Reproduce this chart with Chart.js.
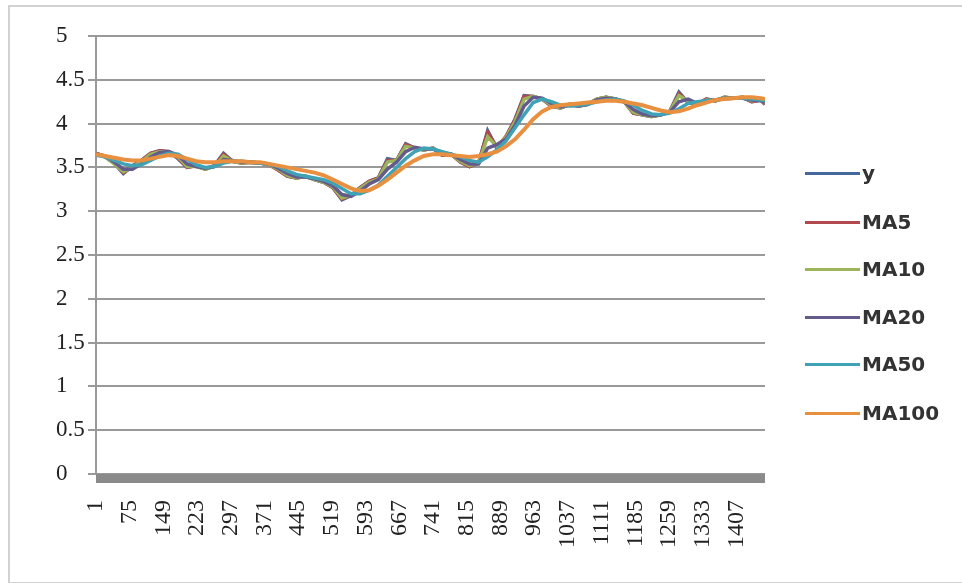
<!DOCTYPE html>
<html>
<head>
<meta charset="utf-8">
<script src="https://cdn.jsdelivr.net/npm/chart.js@4.4.1/dist/chart.umd.min.js"></script>
<style>
    body { margin: 0; background: #fff; }
    #wrap { position: relative; width: 962px; height: 583px; overflow: hidden; }
    #frame { position: absolute; left: 8px; top: 5px; width: 970px; height: 575px; border: 2px solid #d2d2d2; }
    #myChart { position: absolute; left: 0; top: 0; }
    .leg { position: absolute; left: 805px; height: 24px; display: flex; align-items: center;
        font-family: "DejaVu Sans", sans-serif; font-weight: bold; font-size: 20px; color: #333; }
    .leg span.ln { display: inline-block; width: 55px; height: 3px; margin-right: 2px; }
</style>
</head>
<body>
<div id="wrap">
    <div id="frame"></div>
    <canvas id="myChart" width="962" height="583"></canvas>
    <div id="legend"></div>
</div>
<script>
// category index of each sampled point
const idx = [1, 21, 41, 61, 81, 101, 121, 141, 161, 181,
    201, 221, 241, 261, 281, 301, 321, 341, 361, 381,
    401, 421, 441, 461, 481, 501, 521, 541, 561, 581,
    601, 621, 641, 661, 681, 701, 721, 741, 761, 781,
    801, 821, 841, 861, 881, 901, 921, 941, 961, 981,
    1001, 1021, 1041, 1061, 1081, 1101, 1121, 1141, 1161, 1181,
    1201, 1221, 1241, 1261, 1281, 1301, 1321, 1341, 1361, 1381,
    1401, 1421, 1441, 1461, 1470];

const xLabels = [1, 75, 149, 223, 297, 371, 445, 519, 593, 667, 741, 815, 889, 963, 1037, 1111, 1185, 1259, 1333, 1407];

const yVals = [3.66, 3.62, 3.55, 3.43, 3.52, 3.58, 3.66, 3.69, 3.68, 3.60,
    3.50, 3.52, 3.48, 3.52, 3.66, 3.57, 3.55, 3.56, 3.55, 3.53,
    3.47, 3.40, 3.38, 3.40, 3.36, 3.33, 3.27, 3.13, 3.18, 3.27,
    3.34, 3.38, 3.60, 3.58, 3.77, 3.72, 3.70, 3.72, 3.64, 3.65,
    3.56, 3.51, 3.55, 3.92, 3.72, 3.85, 4.05, 4.32, 4.31, 4.28,
    4.20, 4.18, 4.22, 4.20, 4.22, 4.28, 4.30, 4.28, 4.25, 4.12,
    4.10, 4.08, 4.10, 4.14, 4.36, 4.24, 4.22, 4.28, 4.26, 4.30,
    4.29, 4.30, 4.25, 4.27, 4.22];

const ma5 = [3.66, 3.62, 3.55, 3.44, 3.51, 3.58, 3.66, 3.69, 3.68, 3.61,
    3.50, 3.52, 3.48, 3.52, 3.65, 3.57, 3.55, 3.56, 3.55, 3.53,
    3.47, 3.40, 3.38, 3.40, 3.36, 3.33, 3.27, 3.14, 3.18, 3.27,
    3.34, 3.38, 3.58, 3.58, 3.76, 3.72, 3.70, 3.72, 3.64, 3.65,
    3.56, 3.51, 3.55, 3.90, 3.73, 3.85, 4.04, 4.31, 4.31, 4.28,
    4.20, 4.18, 4.22, 4.20, 4.22, 4.28, 4.30, 4.28, 4.25, 4.12,
    4.10, 4.08, 4.10, 4.14, 4.34, 4.25, 4.22, 4.28, 4.26, 4.30,
    4.29, 4.30, 4.25, 4.27, 4.22];

const ma10 = [3.66, 3.62, 3.54, 3.45, 3.50, 3.57, 3.65, 3.68, 3.68, 3.62,
    3.51, 3.51, 3.48, 3.51, 3.63, 3.57, 3.55, 3.56, 3.55, 3.53,
    3.48, 3.41, 3.38, 3.40, 3.36, 3.33, 3.28, 3.15, 3.18, 3.26,
    3.33, 3.37, 3.56, 3.58, 3.74, 3.72, 3.70, 3.72, 3.65, 3.65,
    3.57, 3.52, 3.55, 3.85, 3.74, 3.84, 4.02, 4.28, 4.31, 4.28,
    4.21, 4.18, 4.22, 4.20, 4.22, 4.28, 4.30, 4.28, 4.25, 4.13,
    4.10, 4.08, 4.10, 4.14, 4.32, 4.26, 4.22, 4.27, 4.26, 4.30,
    4.29, 4.30, 4.26, 4.27, 4.23];

const ma20 = [3.66, 3.63, 3.56, 3.48, 3.48, 3.54, 3.62, 3.67, 3.68, 3.64,
    3.54, 3.51, 3.49, 3.51, 3.59, 3.58, 3.56, 3.56, 3.55, 3.54,
    3.49, 3.43, 3.39, 3.39, 3.37, 3.34, 3.29, 3.19, 3.17, 3.23,
    3.31, 3.36, 3.48, 3.56, 3.68, 3.73, 3.71, 3.71, 3.67, 3.65,
    3.59, 3.54, 3.54, 3.72, 3.76, 3.82, 3.98, 4.20, 4.30, 4.29,
    4.23, 4.19, 4.21, 4.20, 4.22, 4.27, 4.29, 4.28, 4.25, 4.16,
    4.11, 4.09, 4.10, 4.13, 4.25, 4.28, 4.23, 4.26, 4.27, 4.29,
    4.29, 4.29, 4.27, 4.26, 4.24];

const ma50 = [3.64, 3.62, 3.58, 3.54, 3.52, 3.53, 3.58, 3.63, 3.66, 3.65,
    3.59, 3.53, 3.50, 3.51, 3.55, 3.57, 3.57, 3.56, 3.55, 3.54,
    3.51, 3.46, 3.42, 3.40, 3.38, 3.36, 3.32, 3.26, 3.20, 3.20,
    3.24, 3.30, 3.40, 3.50, 3.60, 3.68, 3.72, 3.71, 3.68, 3.65,
    3.62, 3.58, 3.56, 3.62, 3.70, 3.80, 3.95, 4.10, 4.24, 4.28,
    4.25, 4.21, 4.20, 4.21, 4.22, 4.25, 4.27, 4.28, 4.26, 4.21,
    4.15, 4.11, 4.10, 4.12, 4.17, 4.23, 4.25, 4.26, 4.27, 4.28,
    4.29, 4.29, 4.28, 4.27, 4.26];

const ma100 = [3.65, 3.63, 3.61, 3.59, 3.58, 3.58, 3.60, 3.62, 3.64, 3.63,
    3.60, 3.57, 3.56, 3.56, 3.57, 3.57, 3.57, 3.56, 3.56, 3.54,
    3.52, 3.50, 3.48, 3.46, 3.44, 3.41, 3.36, 3.31, 3.26, 3.23,
    3.24, 3.29, 3.36, 3.44, 3.52, 3.58, 3.63, 3.65, 3.65, 3.64,
    3.63, 3.62, 3.63, 3.65, 3.68, 3.74, 3.82, 3.93, 4.05, 4.14,
    4.19, 4.21, 4.22, 4.23, 4.24, 4.25, 4.26, 4.26, 4.25, 4.23,
    4.21, 4.18, 4.15, 4.13, 4.14, 4.17, 4.21, 4.24, 4.27, 4.28,
    4.29, 4.30, 4.30, 4.29, 4.28];

const seriesNames = ['y', 'MA5', 'MA10', 'MA20', 'MA50', 'MA100'];
const seriesData = [yVals, ma5, ma10, ma20, ma50, ma100];
const seriesColors = ['#44689C', '#B0484E', '#9DB55A', '#655A8C', '#40A2B5', '#E8903F'];
const seriesWidths = [3.5, 3.5, 3.5, 3.5, 3.5, 4];

const datasets = seriesData.map((arr, s) => ({
    label: seriesNames[s],
    data: idx.map((x, i) => ({x: x, y: arr[i]})),
    borderColor: seriesColors[s],
    borderWidth: seriesWidths[s],
    pointRadius: 0,
    tension: 0,
    // later series on top like excel
    order: seriesNames.length - s
}));

// thick grey band under the plot, like the category axis in the picture
const axisBar = {
    id: 'axisBar',
    afterDraw(chart) {
        const a = chart.chartArea;
        const ctx = chart.ctx;
        ctx.save();
        ctx.fillStyle = '#8a8a8a';
        ctx.fillRect(a.left, a.bottom, a.right - a.left, 9);
        ctx.restore();
    }
};

const ctx = document.getElementById('myChart').getContext('2d');
const config = {
    type: 'line',
    data: {datasets: datasets},
    options: {
        responsive: false,
        animation: false,
        layout: {padding: {left: 56, top: 36, right: 197, bottom: 0}},
        plugins: {legend: {display: false}, tooltip: {enabled: false}},
        scales: {
            x: {
                type: 'linear',
                min: 1,
                max: 1470,
                grid: {display: false, drawTicks: false},
                border: {display: false},
                afterBuildTicks: scale => { scale.ticks = xLabels.map(v => ({value: v})); },
                afterFit: scale => { scale.height = 109; },
                ticks: {
                    autoSkip: false,
                    minRotation: 90,
                    maxRotation: 90,
                    padding: 26,
                    color: '#222',
                    font: {family: 'Liberation Serif', size: 24},
                    callback: v => String(v)
                }
            },
            y: {
                min: 0,
                max: 5,
                grid: {color: '#999', lineWidth: 2, tickLength: 8},
                border: {color: '#999', width: 2},
                afterFit: scale => { scale.width = 40; },
                ticks: {
                    stepSize: 0.5,
                    crossAlign: 'far',
                    color: '#222',
                    font: {family: 'Liberation Serif', size: 23},
                    callback: v => String(Math.round(v * 10) / 10)
                }
            }
        }
    },
    plugins: [axisBar]
};
const myChart = new Chart(ctx, config);

// legend on the right
const legendY = [173, 222, 269, 317, 364, 413];
const legendDiv = document.getElementById('legend');
seriesNames.forEach((name, i) => {
    const item = document.createElement('div');
    item.className = 'leg';
    item.style.top = (legendY[i] - 12) + 'px';
    item.innerHTML = '<span class="ln" style="background:' + seriesColors[i] + '"></span>' + name;
    legendDiv.appendChild(item);
});
</script>
</body>
</html>
